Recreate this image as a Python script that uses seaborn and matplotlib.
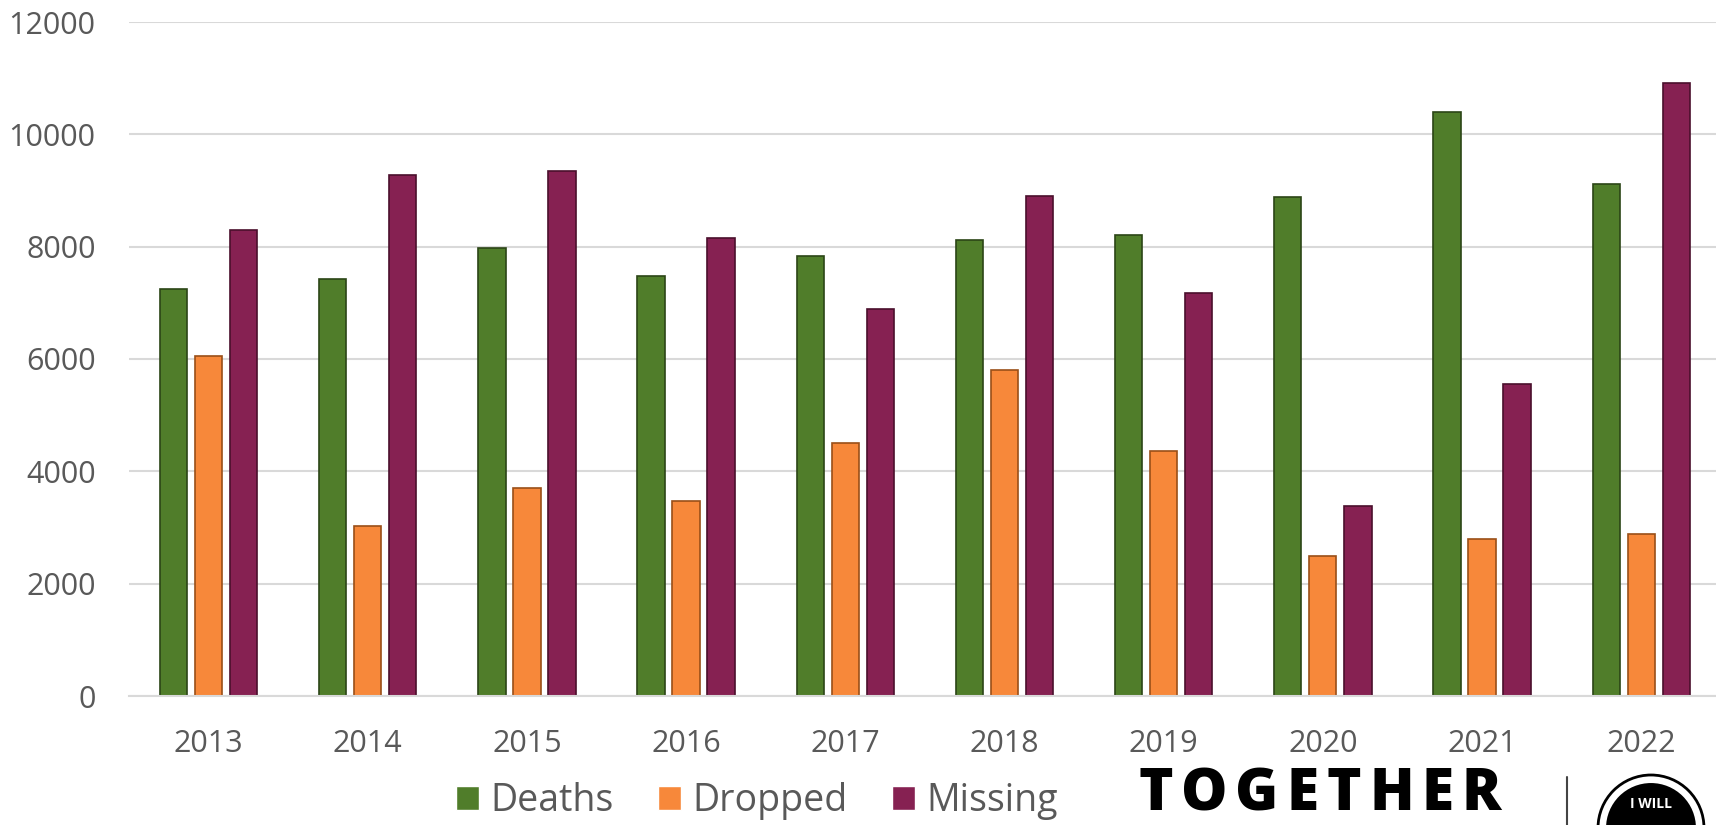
"""
Deaths, dropped and missing counts per year, grouped bar chart.
"""
import numpy as np
import pandas as pd
import seaborn as sns
import matplotlib.pyplot as plt
from matplotlib.patches import Circle
from matplotlib.lines import Line2D

years = ["2013", "2014", "2015", "2016", "2017", "2018", "2019", "2020", "2021", "2022"]
deaths = [7250, 7420, 7980, 7470, 7840, 8120, 8210, 8890, 10400, 9120]
dropped = [6050, 3030, 3700, 3480, 4510, 5800, 4370, 2490, 2790, 2880]
missing = [8300, 9270, 9350, 8160, 6890, 8900, 7180, 3390, 5560, 10920]
series_names = ["Deaths", "Dropped", "Missing"]
y_ticks = [0, 2000, 4000, 6000, 8000, 10000, 12000]


def main():
    # long-form table for seaborn
    df = pd.DataFrame({
        "year": years * 3,
        "value": deaths + dropped + missing,
        "series": np.repeat(series_names, len(years)),
    })

    sns.set_style("white")
    plt.rcParams["font.family"] = ["Open Sans", "DejaVu Sans"]

    W, H = 1716, 825
    fig = plt.figure(figsize=(W / 100, H / 100), dpi=100)
    ax = fig.add_axes([129 / W, 1 - 696 / H, 1 - 129 / W, (696 - 22) / H])

    palette = {"Deaths": "#507D2A", "Dropped": "#F7883A", "Missing": "#862152"}
    edges = {"Deaths": "#2B4516", "Dropped": "#9A4F18", "Missing": "#4A0F2C"}
    sns.barplot(data=df, x="year", y="value", hue="series", hue_order=series_names,
                palette=palette, width=0.66, gap=0.22, saturation=1, ax=ax,
                legend=True)
    for cont, name in zip(ax.containers, series_names):
        for bar in cont:
            bar.set_edgecolor(edges[name])
            bar.set_linewidth(1.2)

    ax.set_xlim(-0.5, 9.47)
    ax.set_ylim(0, 12000)
    ax.set_yticks(y_ticks)
    ax.yaxis.grid(True, color="#D9D9D9", linewidth=1.5)
    ax.set_axisbelow(True)
    ax.set_xlabel("")
    ax.set_ylabel("")
    for side in ["left", "right", "top"]:
        ax.spines[side].set_visible(False)
    ax.spines["bottom"].set_color("#D9D9D9")
    ax.spines["bottom"].set_linewidth(1.5)
    ax.tick_params(axis="both", length=0, labelsize=22, labelcolor="#595959")
    ax.tick_params(axis="x", pad=24)
    ax.tick_params(axis="y", pad=24)

    handles, labels = ax.get_legend_handles_labels()
    ax.legend(handles, labels, loc="center", bbox_to_anchor=(757 / W, 1 - 801 / H),
              bbox_transform=fig.transFigure, ncol=3, frameon=False, fontsize=27,
              handlelength=0.6, handleheight=0.6, handletextpad=0.3,
              columnspacing=1.2, labelcolor="#595959")

    # logo strip at the bottom right, letters spaced out one by one
    renderer = fig.canvas.get_renderer()
    x = 1138
    for ch in "TOGETHER":
        t = fig.text(x / W, 0.5 / H, ch, fontsize=42, fontweight="heavy",
                     color="black", ha="left", va="bottom")
        x += t.get_window_extent(renderer).width + 8
    fig.add_artist(Line2D([1567 / W, 1567 / W], [0, 1 - 777 / H], color="#444444",
                          linewidth=1.5, transform=fig.transFigure))
    fig.add_artist(Circle((1651, H - 828), 53, transform=None, facecolor="white",
                          edgecolor="black", linewidth=2))
    fig.add_artist(Circle((1651, H - 828), 46, transform=None, facecolor="black",
                          edgecolor="white", linewidth=1.5))
    fig.text(1651 / W, 1 - 804 / H, "I WILL", fontsize=10, fontweight="bold",
             color="white", ha="center", va="center")

    fig.savefig("out.png", dpi=100)


if __name__ == "__main__":
    main()
